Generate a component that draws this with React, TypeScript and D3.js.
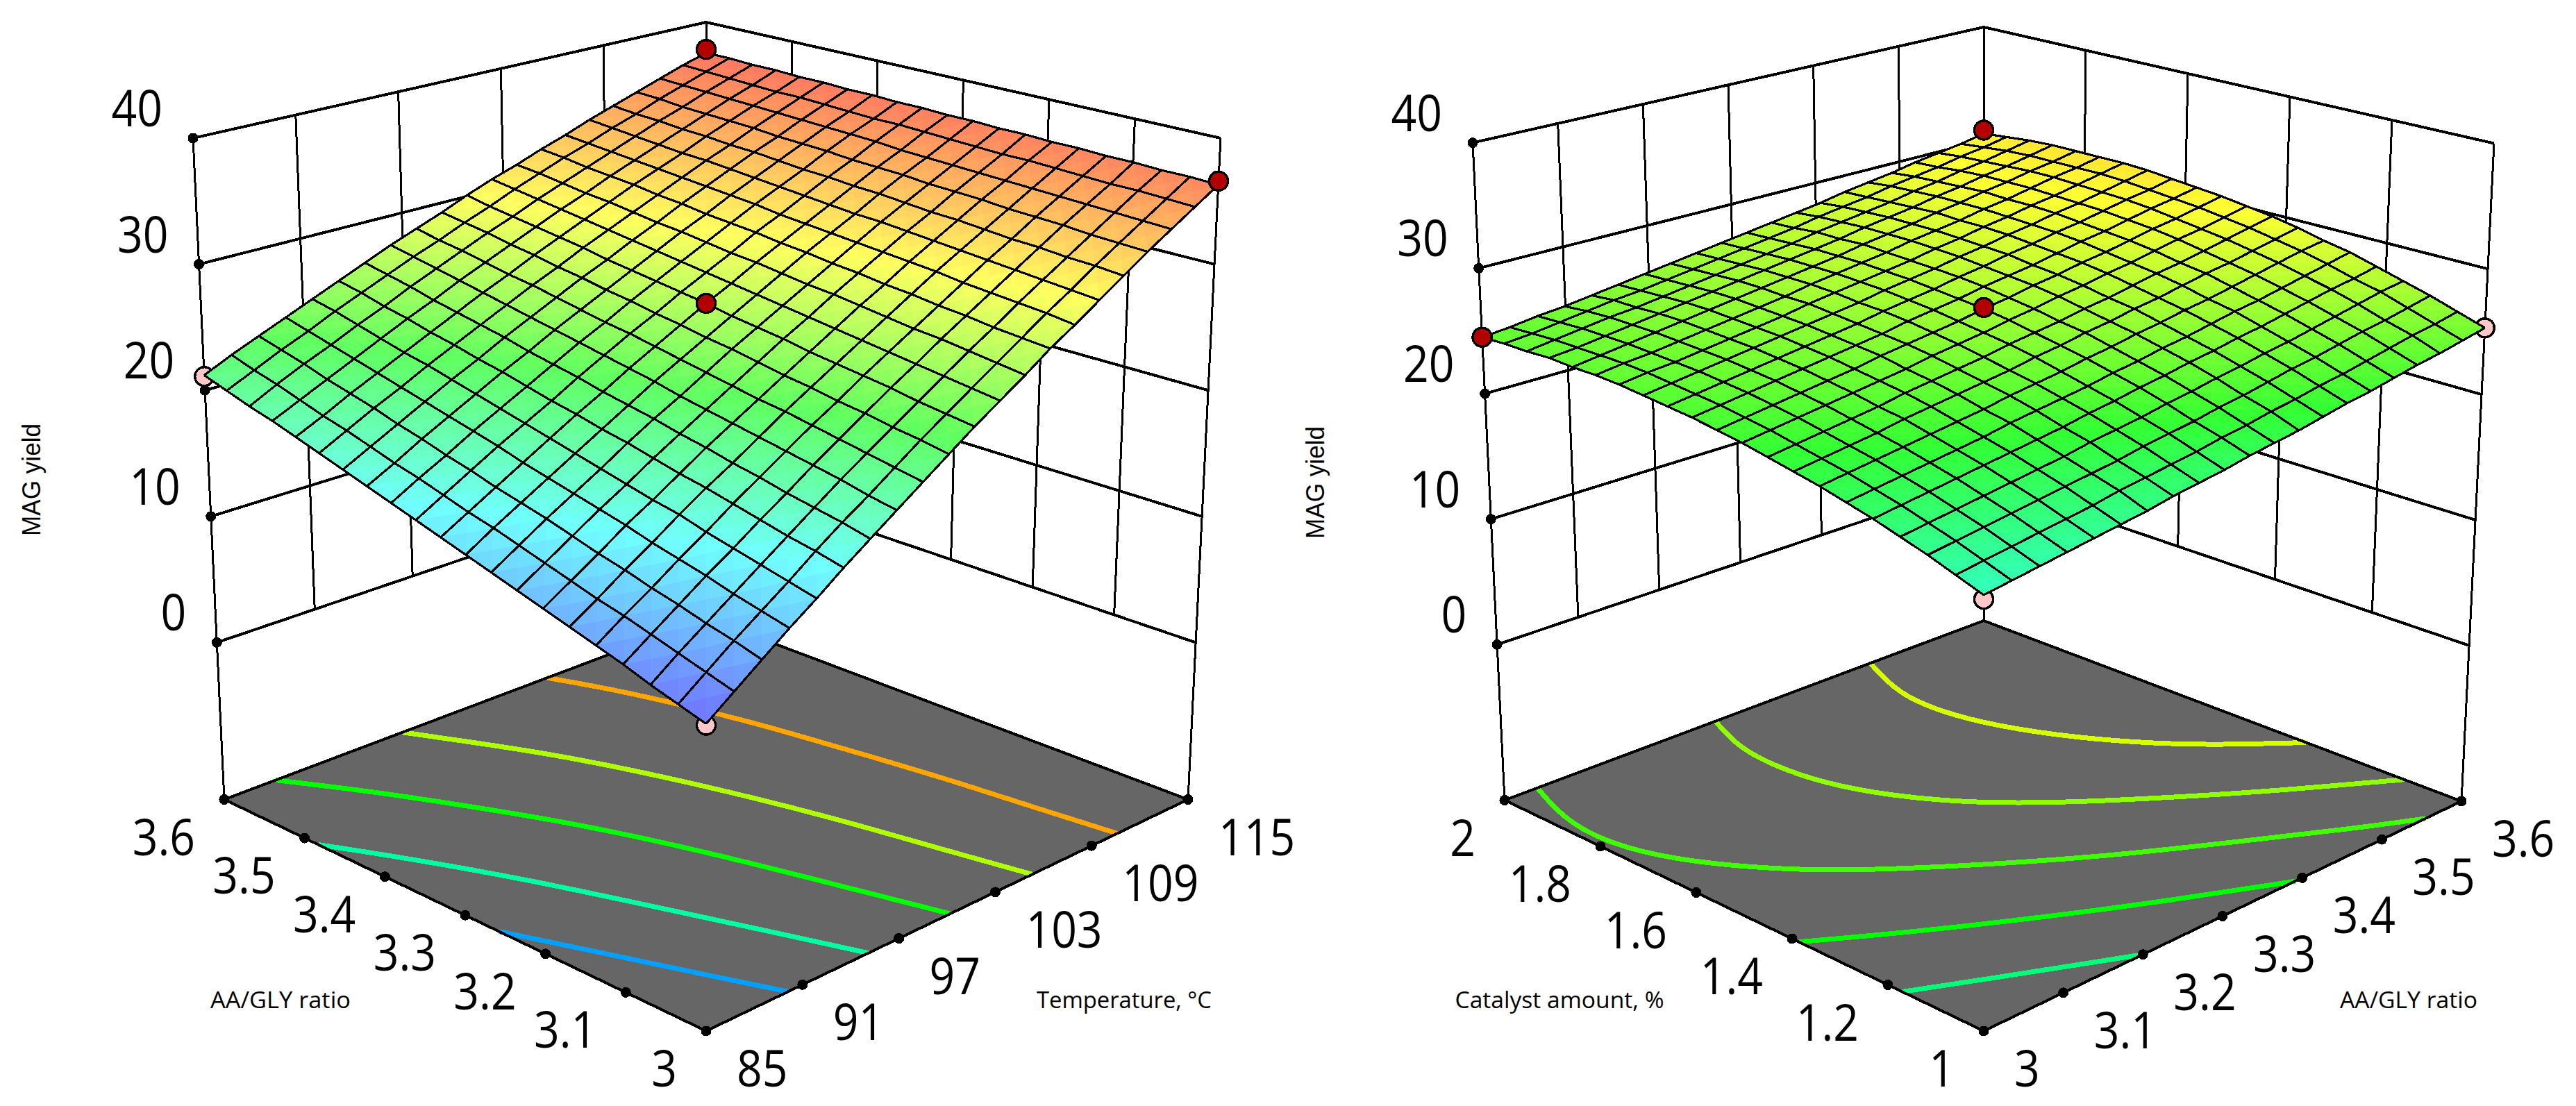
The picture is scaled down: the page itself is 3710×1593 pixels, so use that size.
import * as d3 from 'd3';

const FONT = '"Open Sans", sans-serif';

// axis ticks
const yieldTicks = [0, 10, 20, 30, 40];
const tempTicks = [85, 91, 97, 103, 109, 115];
const ratioTicks = [3, 3.1, 3.2, 3.3, 3.4, 3.5, 3.6];
const catalystTicks = [1, 1.2, 1.4, 1.6, 1.8, 2];

// MAG yield: rows = ratio 3 -> 3.6, columns = temperature 85 -> 115
const yieldTempRatio = [
  [9.2, 10.7, 12.2, 13.7, 15.1, 16.6, 18.0, 19.4, 20.8, 22.2, 23.6, 24.9, 26.2, 27.6, 28.8, 30.1, 31.4, 32.7, 33.9, 35.1, 36.3],
  [9.8, 11.3, 12.8, 14.2, 15.6, 17.1, 18.5, 19.8, 21.2, 22.6, 23.9, 25.2, 26.5, 27.8, 29.1, 30.3, 31.6, 32.8, 34.0, 35.2, 36.4],
  [10.4, 11.9, 13.3, 14.7, 16.1, 17.5, 18.9, 20.3, 21.6, 22.9, 24.2, 25.5, 26.8, 28.0, 29.3, 30.5, 31.7, 32.9, 34.1, 35.3, 36.4],
  [11.1, 12.5, 13.9, 15.3, 16.6, 18.0, 19.3, 20.7, 22.0, 23.3, 24.6, 25.8, 27.1, 28.3, 29.5, 30.7, 31.9, 33.1, 34.2, 35.3, 36.5],
  [11.7, 13.1, 14.4, 15.8, 17.1, 18.5, 19.8, 21.1, 22.4, 23.6, 24.9, 26.1, 27.3, 28.5, 29.7, 30.9, 32.0, 33.2, 34.3, 35.4, 36.5],
  [12.3, 13.6, 15.0, 16.3, 17.7, 19.0, 20.2, 21.5, 22.8, 24.0, 25.2, 26.4, 27.6, 28.8, 30.0, 31.1, 32.2, 33.3, 34.4, 35.5, 36.6],
  [12.9, 14.2, 15.5, 16.9, 18.1, 19.4, 20.7, 21.9, 23.1, 24.3, 25.5, 26.7, 27.9, 29.0, 30.2, 31.3, 32.4, 33.5, 34.5, 35.6, 36.6],
  [13.5, 14.8, 16.1, 17.4, 18.6, 19.9, 21.1, 22.3, 23.5, 24.7, 25.9, 27.0, 28.2, 29.3, 30.4, 31.5, 32.5, 33.6, 34.6, 35.6, 36.7],
  [14.1, 15.4, 16.7, 17.9, 19.1, 20.4, 21.6, 22.7, 23.9, 25.1, 26.2, 27.3, 28.4, 29.5, 30.6, 31.7, 32.7, 33.7, 34.7, 35.7, 36.7],
  [14.7, 16.0, 17.2, 18.4, 19.6, 20.8, 22.0, 23.2, 24.3, 25.4, 26.5, 27.6, 28.7, 29.8, 30.8, 31.8, 32.9, 33.9, 34.8, 35.8, 36.8],
  [15.3, 16.5, 17.7, 18.9, 20.1, 21.3, 22.4, 23.6, 24.7, 25.8, 26.9, 27.9, 29.0, 30.0, 31.0, 32.0, 33.0, 34.0, 34.9, 35.9, 36.8],
  [15.9, 17.1, 18.3, 19.5, 20.6, 21.7, 22.9, 24.0, 25.1, 26.1, 27.2, 28.2, 29.2, 30.3, 31.2, 32.2, 33.2, 34.1, 35.1, 36.0, 36.9],
  [16.5, 17.7, 18.8, 20.0, 21.1, 22.2, 23.3, 24.4, 25.4, 26.5, 27.5, 28.5, 29.5, 30.5, 31.5, 32.4, 33.3, 34.3, 35.2, 36.0, 36.9],
  [17.1, 18.2, 19.4, 20.5, 21.6, 22.7, 23.7, 24.8, 25.8, 26.8, 27.8, 28.8, 29.8, 30.7, 31.7, 32.6, 33.5, 34.4, 35.3, 36.1, 37.0],
  [17.7, 18.8, 19.9, 21.0, 22.1, 23.1, 24.2, 25.2, 26.2, 27.2, 28.1, 29.1, 30.0, 31.0, 31.9, 32.8, 33.7, 34.5, 35.4, 36.2, 37.0],
  [18.3, 19.4, 20.5, 21.5, 22.6, 23.6, 24.6, 25.6, 26.6, 27.5, 28.5, 29.4, 30.3, 31.2, 32.1, 33.0, 33.8, 34.7, 35.5, 36.3, 37.1],
  [18.9, 19.9, 21.0, 22.0, 23.0, 24.0, 25.0, 26.0, 26.9, 27.9, 28.8, 29.7, 30.6, 31.5, 32.3, 33.1, 34.0, 34.8, 35.6, 36.3, 37.1],
  [19.5, 20.5, 21.5, 22.5, 23.5, 24.5, 25.4, 26.4, 27.3, 28.2, 29.1, 30.0, 30.8, 31.7, 32.5, 33.3, 34.1, 34.9, 35.7, 36.4, 37.2],
  [20.0, 21.1, 22.1, 23.0, 24.0, 24.9, 25.9, 26.8, 27.7, 28.6, 29.4, 30.3, 31.1, 31.9, 32.7, 33.5, 34.3, 35.0, 35.8, 36.5, 37.2],
  [20.6, 21.6, 22.6, 23.5, 24.5, 25.4, 26.3, 27.2, 28.0, 28.9, 29.7, 30.6, 31.4, 32.2, 32.9, 33.7, 34.4, 35.2, 35.9, 36.6, 37.3],
  [21.2, 22.2, 23.1, 24.0, 24.9, 25.8, 26.7, 27.6, 28.4, 29.2, 30.1, 30.9, 31.6, 32.4, 33.1, 33.9, 34.6, 35.3, 36.0, 36.7, 37.3],
];

// right surface: rows = catalyst 1 -> 2, columns = ratio 3 -> 3.6
const yieldRatioCatalyst = [
  [18.5, 18.8, 19.1, 19.4, 19.7, 20.0, 20.3, 20.7, 21.0, 21.3, 21.7, 22.0, 22.3, 22.7, 23.1, 23.4, 23.8, 24.2, 24.5, 24.9, 25.3],
  [19.2, 19.5, 19.8, 20.1, 20.4, 20.7, 21.1, 21.4, 21.7, 22.0, 22.4, 22.7, 23.1, 23.4, 23.8, 24.1, 24.5, 24.9, 25.3, 25.6, 26.0],
  [19.9, 20.2, 20.5, 20.8, 21.1, 21.4, 21.7, 22.0, 22.4, 22.7, 23.0, 23.4, 23.7, 24.1, 24.5, 24.8, 25.2, 25.6, 25.9, 26.3, 26.7],
  [20.5, 20.8, 21.1, 21.4, 21.7, 22.0, 22.3, 22.7, 23.0, 23.3, 23.7, 24.0, 24.4, 24.7, 25.1, 25.4, 25.8, 26.2, 26.6, 27.0, 27.3],
  [21.1, 21.4, 21.7, 22.0, 22.3, 22.6, 22.9, 23.2, 23.6, 23.9, 24.3, 24.6, 25.0, 25.3, 25.7, 26.0, 26.4, 26.8, 27.2, 27.5, 27.9],
  [21.6, 21.9, 22.2, 22.5, 22.8, 23.1, 23.5, 23.8, 24.1, 24.4, 24.8, 25.1, 25.5, 25.8, 26.2, 26.6, 26.9, 27.3, 27.7, 28.1, 28.5],
  [22.1, 22.4, 22.7, 23.0, 23.3, 23.6, 23.9, 24.3, 24.6, 24.9, 25.3, 25.6, 26.0, 26.3, 26.7, 27.0, 27.4, 27.8, 28.2, 28.6, 28.9],
  [22.5, 22.8, 23.1, 23.4, 23.8, 24.1, 24.4, 24.7, 25.0, 25.4, 25.7, 26.1, 26.4, 26.8, 27.1, 27.5, 27.9, 28.2, 28.6, 29.0, 29.4],
  [22.9, 23.2, 23.5, 23.8, 24.1, 24.5, 24.8, 25.1, 25.4, 25.8, 26.1, 26.4, 26.8, 27.1, 27.5, 27.9, 28.2, 28.6, 29.0, 29.4, 29.8],
  [23.3, 23.6, 23.9, 24.2, 24.5, 24.8, 25.1, 25.5, 25.8, 26.1, 26.5, 26.8, 27.2, 27.5, 27.9, 28.2, 28.6, 29.0, 29.3, 29.7, 30.1],
  [23.6, 23.9, 24.2, 24.5, 24.8, 25.1, 25.5, 25.8, 26.1, 26.4, 26.8, 27.1, 27.5, 27.8, 28.2, 28.5, 28.9, 29.3, 29.6, 30.0, 30.4],
  [23.9, 24.2, 24.5, 24.8, 25.1, 25.4, 25.7, 26.0, 26.4, 26.7, 27.0, 27.4, 27.7, 28.0, 28.4, 28.8, 29.1, 29.5, 29.9, 30.2, 30.6],
  [24.1, 24.4, 24.7, 25.0, 25.3, 25.6, 25.9, 26.2, 26.6, 26.9, 27.2, 27.6, 27.9, 28.3, 28.6, 29.0, 29.3, 29.7, 30.1, 30.4, 30.8],
  [24.3, 24.6, 24.9, 25.2, 25.5, 25.8, 26.1, 26.4, 26.7, 27.1, 27.4, 27.7, 28.1, 28.4, 28.8, 29.1, 29.5, 29.8, 30.2, 30.6, 31.0],
  [24.5, 24.8, 25.0, 25.3, 25.6, 25.9, 26.2, 26.6, 26.9, 27.2, 27.5, 27.8, 28.2, 28.5, 28.9, 29.2, 29.6, 29.9, 30.3, 30.7, 31.1],
  [24.6, 24.9, 25.1, 25.4, 25.7, 26.0, 26.3, 26.6, 27.0, 27.3, 27.6, 27.9, 28.3, 28.6, 28.9, 29.3, 29.6, 30.0, 30.4, 30.7, 31.1],
  [24.6, 24.9, 25.2, 25.5, 25.8, 26.1, 26.4, 26.7, 27.0, 27.3, 27.6, 28.0, 28.3, 28.6, 29.0, 29.3, 29.7, 30.0, 30.4, 30.7, 31.1],
  [24.7, 24.9, 25.2, 25.5, 25.8, 26.1, 26.4, 26.7, 27.0, 27.3, 27.6, 27.9, 28.3, 28.6, 28.9, 29.3, 29.6, 30.0, 30.3, 30.7, 31.1],
  [24.6, 24.9, 25.2, 25.5, 25.7, 26.0, 26.3, 26.6, 26.9, 27.2, 27.5, 27.9, 28.2, 28.5, 28.8, 29.2, 29.5, 29.9, 30.2, 30.6, 31.0],
  [24.6, 24.8, 25.1, 25.4, 25.7, 25.9, 26.2, 26.5, 26.8, 27.1, 27.4, 27.7, 28.1, 28.4, 28.7, 29.1, 29.4, 29.7, 30.1, 30.4, 30.8],
  [24.5, 24.7, 25.0, 25.2, 25.5, 25.8, 26.1, 26.4, 26.7, 27.0, 27.3, 27.6, 27.9, 28.2, 28.6, 28.9, 29.2, 29.6, 29.9, 30.2, 30.6],
];

// design points, [x axis, y axis, yield]
const pointsAboveLeft = [[115, 3.6, 37.6], [115, 3, 36.6], [100, 3.3, 26.9]];
const pointsBelowLeft = [[85, 3.6, 21.1], [85, 3, 9.1]];
const pointsAboveRight = [[3, 2, 24.5], [3.6, 2, 30.9], [3.3, 1.5, 26.9]];
const pointsBelowRight = [[3.6, 1, 25.3], [3, 1, 18.2]];

// contours on the floor, [x axis, y axis]
const contoursLeft = [
  { color: '#00a0ff', pts: [[85, 3.258], [87.1, 3.156], [88.7, 3.073], [90.1, 3]] },
  { color: '#00ffa0', pts: [[85, 3.483], [87.1, 3.411], [89.6, 3.308], [91.7, 3.197], [93.7, 3.085], [95.1, 3]] },
  { color: '#00ff00', pts: [[88.2, 3.6], [90.6, 3.531], [92.6, 3.46], [95, 3.365], [97, 3.252], [98.6, 3.131], [100.2, 3]] },
  { color: '#b0ff00', pts: [[96.1, 3.6], [98.1, 3.529], [99.8, 3.461], [101.9, 3.339], [103.5, 3.208], [104.3, 3.112], [105.3, 3]] },
  { color: '#ffa500', pts: [[105.1, 3.6], [106.5, 3.534], [107.95, 3.422], [108.4, 3.37], [109.1, 3.28], [109.8, 3.172], [110.2, 3.078], [110.6, 3]] },
];
const contoursRight = [
  { color: '#00ff78', pts: [[3, 1.17], [3.072, 1.11], [3.146, 1.047], [3.2, 1]] },
  { color: '#00ff00', pts: [[3, 1.386], [3.082, 1.299], [3.178, 1.203], [3.275, 1.108], [3.391, 1]] },
  { color: '#40ff00', pts: [[3.041, 2], [3.016, 1.908], [3.008, 1.81], [3.031, 1.694], [3.089, 1.569], [3.142, 1.485], [3.229, 1.372], [3.317, 1.263], [3.41, 1.162], [3.502, 1.056], [3.555, 1]] },
  { color: '#90ff00', pts: [[3.264, 2], [3.24, 1.914], [3.235, 1.829], [3.242, 1.737], [3.266, 1.64], [3.307, 1.538], [3.369, 1.435], [3.453, 1.318], [3.509, 1.24], [3.6, 1.12]] },
  { color: '#d8ff00', pts: [[3.458, 2], [3.428, 1.894], [3.426, 1.8], [3.439, 1.705], [3.471, 1.588], [3.512, 1.485], [3.544, 1.42], [3.6, 1.325]] },
];

const colorStops = [9.2, 16.5, 23, 30, 38.5];
const colorsLeft = ['#7070ff', '#70ffff', '#60ff60', '#ffff60', '#ff6060'];
const colorsRight = ['#3333ff', '#33ffff', '#33ff33', '#ffff33', '#ff3333'];

type Pt = [number, number];

function lerp(a: number, b: number, t: number) {
  return a + (b - a) * t;
}

function bilerp(q: any, u: number, v: number): Pt {
  return [
    lerp(lerp(q.f[0], q.r[0], u), lerp(q.l[0], q.b[0], u), v),
    lerp(lerp(q.f[1], q.r[1], u), lerp(q.l[1], q.b[1], u), v),
  ];
}

// unit square to quad, the surface mesh has real perspective (the tick marks do not)
function perspective(q: any, u: number, v: number): Pt {
  const [x0, y0] = q.f, [x1, y1] = q.r, [x2, y2] = q.b, [x3, y3] = q.l;
  const sx = x0 - x1 + x2 - x3, sy = y0 - y1 + y2 - y3;
  const dx1 = x1 - x2, dx2 = x3 - x2, dy1 = y1 - y2, dy2 = y3 - y2;
  const den = dx1 * dy2 - dx2 * dy1;
  const g = (sx * dy2 - dx2 * sy) / den;
  const h = (dx1 * sy - sx * dy1) / den;
  const w = g * u + h * v + 1;
  return [
    ((x1 - x0 + g * x1) * u + (x3 - x0 + h * x3) * v + x0) / w,
    ((y1 - y0 + g * y1) * u + (y3 - y0 + h * y3) * v + y0) / w,
  ];
}

function Panel({ box, xTicks, yTicks, grid, above, below, contours, colors, labels }: any) {
  const uScale = d3.scaleLinear().domain(d3.extent(xTicks) as any).range([0, 1]);
  const vScale = d3.scaleLinear().domain(d3.extent(yTicks) as any).range([0, 1]);
  const zScale = d3.scaleLinear().domain([box.zFloor, 40]).range([0, 1]);
  const color = d3.scaleLinear<string>().domain(colorStops).range(colors).clamp(true);
  const nodes = d3.scaleLinear().domain([0, grid.length - 1]).range([0, 1]);

  const project = (u: number, v: number, value: number): Pt => {
    const lo = bilerp(box.floor, u, v);
    const hi = bilerp(box.top, u, v);
    const w = zScale(value);
    return [lerp(lo[0], hi[0], w), lerp(lo[1], hi[1], w)];
  };
  const projectSurface = (u: number, v: number, value: number): Pt => {
    const lo = perspective(box.floor, u, v);
    const hi = perspective(box.top, u, v);
    const w = zScale(value);
    return [lerp(lo[0], hi[0], w), lerp(lo[1], hi[1], w)];
  };
  const at = (x: number, y: number, value: number) => project(uScale(x), vScale(y), value);
  const line = d3.line();
  const curve = d3.line().curve(d3.curveBasis);

  const node = (j: number, i: number) => projectSurface(nodes(i), nodes(j), grid[j][i]);

  const cells: { d: string; fill: string }[] = [];
  for (let j = 0; j < grid.length - 1; j++) {
    for (let i = 0; i < grid[j].length - 1; i++) {
      const corners: [number, number][] = [[j, i], [j, i + 1], [j + 1, i + 1], [j + 1, i]];
      const mid = d3.mean(corners, (c) => grid[c[0]][c[1]]) as number;
      const centre = projectSurface(nodes(i + 0.5), nodes(j + 0.5), mid);
      corners.forEach((c, k) => {
        const n = corners[(k + 1) % 4];
        const val = (grid[c[0]][c[1]] + grid[n[0]][n[1]] + mid) / 3;
        cells.push({ d: line([node(c[0], c[1]), node(n[0], n[1]), centre]) + 'Z', fill: color(val) });
      });
    }
  }
  const indices = d3.range(grid.length);
  const meshLines = [
    ...indices.map((j) => line(indices.map((i) => node(j, i)))),
    ...indices.map((i) => line(indices.map((j) => node(j, i)))),
  ];

  const floorPath = line([project(0, 0, box.zFloor), project(1, 0, box.zFloor), project(1, 1, box.zFloor), project(0, 1, box.zFloor)]) + 'Z';

  const dot = (p: number[], fill: string, key: number) => {
    const [cx, cy] = projectSurface(uScale(p[0]), vScale(p[1]), p[2]);
    return <circle key={key} cx={cx} cy={cy} r={13.5} fill={fill} stroke="#000" strokeWidth={3.5} />;
  };
  const tickText = (x: number, y: number, text: any, anchor: string, key: any) => (
    <text key={key} transform={`translate(${x},${y}) scale(0.88,1)`} textAnchor={anchor}
      fontFamily={FONT} fontSize={73} fill="#000">{text}</text>
  );
  const axisText = (x: number, text: string, width: number) => (
    <text x={x} y={1452} textAnchor="middle" fontFamily={FONT} fontSize={33.5} fill="#000"
      textLength={width} lengthAdjust="spacingAndGlyphs">{text}</text>
  );

  return (
    <g>
      {/* walls */}
      {yieldTicks.map((z) => (
        <path key={z} d={line([project(0, 1, z), project(1, 1, z), project(1, 0, z)]) as string}
          fill="none" stroke="#000" strokeWidth={4} />
      ))}
      {xTicks.slice(1, -1).map((x: number) => (
        <path key={x} d={line([at(x, yTicks[yTicks.length - 1], 0), at(x, yTicks[yTicks.length - 1], 40)]) as string}
          fill="none" stroke="#000" strokeWidth={3} />
      ))}
      {yTicks.slice(1, -1).map((y: number) => (
        <path key={y} d={line([at(xTicks[xTicks.length - 1], y, 0), at(xTicks[xTicks.length - 1], y, 40)]) as string}
          fill="none" stroke="#000" strokeWidth={3} />
      ))}
      {[[0, 1], [1, 1], [1, 0]].map(([u, v]) => (
        <path key={`${u}${v}`} d={line([project(u, v, box.zFloor), project(u, v, 40)]) as string}
          fill="none" stroke="#000" strokeWidth={3} />
      ))}

      {/* floor */}
      <path d={floorPath} fill="#666666" stroke="none" />
      {contours.map((c: any) => (
        <path key={c.color} d={curve(c.pts.map((p: number[]) => at(p[0], p[1], box.zFloor))) as string}
          fill="none" stroke={c.color} strokeWidth={7} />
      ))}
      <path d={floorPath} fill="none" stroke="#000" strokeWidth={4} />

      {/* tick dots and labels */}
      {yieldTicks.map((z) => {
        const [x, y] = project(0, 1, z);
        return (
          <g key={z}>
            <circle cx={x} cy={y} r={7.5} fill="#000" />
            {tickText(x - 44, y - 17, z, 'end', 'z')}
          </g>
        );
      })}
      {yTicks.map((t: number) => {
        const [x, y] = at(xTicks[0], t, box.zFloor);
        return (
          <g key={t}>
            <circle cx={x} cy={y} r={7.5} fill="#000" />
            {tickText(x - 42, y + 80, t, 'end', 'l')}
          </g>
        );
      })}
      {xTicks.map((t: number) => {
        const [x, y] = at(t, yTicks[0], box.zFloor);
        return (
          <g key={t}>
            <circle cx={x} cy={y} r={7.5} fill="#000" />
            {tickText(x + 44, y + 80, t, 'start', 'r')}
          </g>
        );
      })}

      {below.map((p: number[], k: number) => dot(p, '#ffc8c8', k))}

      {/* surface */}
      {cells.map((c, k) => <path key={k} d={c.d} fill={c.fill} />)}
      {meshLines.map((d, k) => <path key={k} d={d as string} fill="none" stroke="#000" strokeWidth={3.2} />)}

      {above.map((p: number[], k: number) => dot(p, '#b30000', k))}

      {/* axis titles */}
      <text transform={`translate(${labels.zX},${labels.zY}) rotate(-90)`} textAnchor="middle"
        fontFamily='"Liberation Sans", sans-serif' fontSize={36} fill="#000"
        textLength={162} lengthAdjust="spacingAndGlyphs">MAG yield</text>
      {axisText(labels.yX, labels.y, labels.yW)}
      {axisText(labels.xX, labels.x, labels.xW)}
    </g>
  );
}

const boxLeft = {
  zFloor: -12.45,
  floor: { f: [1017, 1485], r: [1711, 1151.5], l: [323, 1151.5], b: [1017, 890] },
  top: { f: [1017, 413], r: [1758, 199], l: [278, 199], b: [1017, 32] },
};
const boxRight = {
  zFloor: -12.4,
  floor: { f: [2857, 1485], r: [3545, 1154], l: [2167, 1152.5], b: [2857, 894] },
  top: { f: [2857, 420], r: [3592, 206.5], l: [2121, 205.6], b: [2857, 39] },
};

export default function App() {
  return (
    <svg width={3710} height={1593} viewBox="0 0 3710 1593" shapeRendering="crispEdges"
      style={{ position: 'absolute', left: 0, top: 0, display: 'block', background: '#fff' }}>
      <Panel box={boxLeft} xTicks={tempTicks} yTicks={ratioTicks} grid={yieldTempRatio}
        above={pointsAboveLeft} below={pointsBelowLeft} contours={contoursLeft} colors={colorsLeft}
        labels={{ zX: 58, zY: 691, y: 'AA/GLY ratio', yX: 404, yW: 202, x: 'Temperature, °C', xX: 1619, xW: 252 }} />
      <Panel box={boxRight} xTicks={ratioTicks} yTicks={catalystTicks} grid={yieldRatioCatalyst}
        above={pointsAboveRight} below={pointsBelowRight} contours={contoursRight} colors={colorsRight}
        labels={{ zX: 1907, zY: 695, y: 'Catalyst amount, %', yX: 2246, yW: 301, x: 'AA/GLY ratio', xX: 3469, xW: 198 }} />
    </svg>
  );
}
